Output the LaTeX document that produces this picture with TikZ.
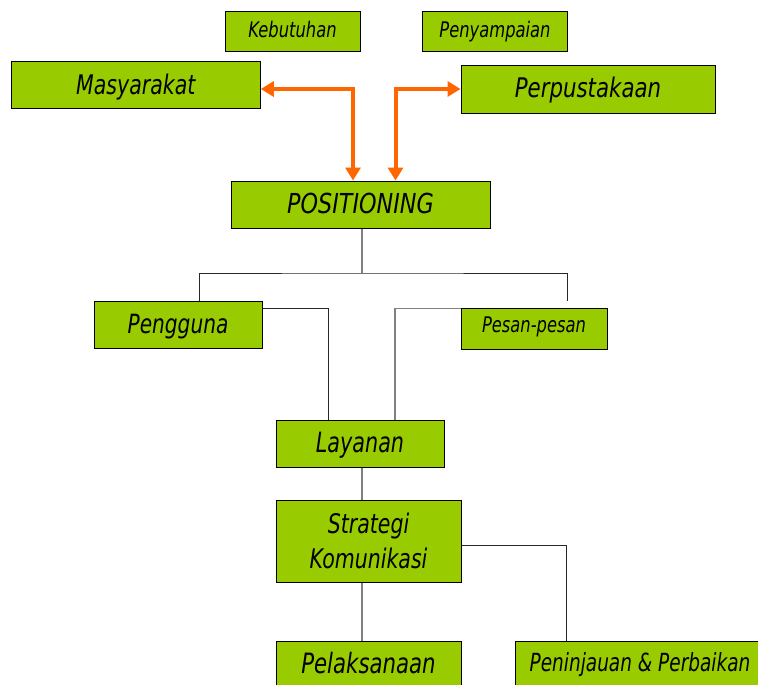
\documentclass[tikz,border=0pt]{standalone}
\usepackage{fontspec}
\newfontfamily\kotakfont[FakeStretch=0.76]{DejaVu Sans}
\usetikzlibrary{arrows.meta, positioning}

\definecolor{hijau}{RGB}{153,204,0}
\definecolor{oranye}{RGB}{255,102,0}
\definecolor{garis}{RGB}{40,40,40}
\definecolor{garisabu}{RGB}{128,128,128}

\newcommand{\ukuran}[1]{\kotakfont\itshape\fontsize{#1}{35}\selectfont}

\begin{document}
\begin{tikzpicture}[x=1pt, y=-1pt,
    kotak/.style={draw=black, line width=1pt, fill=hijau, inner sep=0pt,
        align=center, text height=19pt, text depth=1.2pt, font=\ukuran{27}},
    kotakkecil/.style={kotak, font=\ukuran{21.5}, text height=13pt, text depth=1.4pt},
    panah/.style={draw=oranye, line width=4pt, line join=miter,
        {Triangle[length=13pt, width=15pt]}-{Triangle[length=13pt, width=15pt]}},
    hubung/.style={draw=garis, line width=1pt},
    hubungabu/.style={draw=garisabu, line width=1.2pt}]
    \useasboundingbox (0,0) rectangle (758,685);

    % Kebutuhan dan penyampaian
    \node[kotakkecil, minimum width=135pt, minimum height=40pt] (butuh) at (292.5,31.7) {Kebutuhan};
    \node[kotakkecil, minimum width=145pt, minimum height=40pt] (sampai) at (495,31.7) {Penyampaian};

    % Masyarakat dan perpustakaan
    \node[kotak, minimum width=249pt, minimum height=47pt, text height=20pt] (masyarakat) at (135.8,85.4) {Masyarakat};
    \node[kotak, minimum width=254pt, minimum height=47pt, text height=17.4pt, font=\ukuran{27}\addfontfeatures{FakeStretch=0.79}] (pustaka) at (588,89.5) {Perpustakaan};

    % Positioning
    \node[kotak, minimum width=259pt, minimum height=47pt, text height=18.8pt, font=\ukuran{27.5}\addfontfeatures{FakeStretch=0.81}] (posisi) at (360.5,204.5) {POSITIONING};

    % Panah oranye
    \coordinate (belokkiri) at (353,89);
    \coordinate (belokkanan) at (395.5,89);
    \draw[panah] (belokkiri -| masyarakat.east) -- (belokkiri) -- (belokkiri |- posisi.north);
    \draw[panah] (belokkanan -| pustaka.west) -- (belokkanan) -- (belokkanan |- posisi.north);

    % Pengguna, pesan-pesan, layanan
    \node[kotak, minimum width=168pt, minimum height=47pt, font=\ukuran{26.5}] (pengguna) at (178,324.5) {Pengguna};
    \node[kotak, minimum width=146pt, minimum height=41pt, font=\ukuran{21.5}, text height=13pt, text depth=5.4pt] (pesan) at (534,328.5) {Pesan-pesan};
    \node[kotak, minimum width=168pt, minimum height=47pt, font=\ukuran{28}\addfontfeatures{FakeStretch=0.74}] (layanan) at (360,444) {Layanan};

    % Cabang dari positioning
    \coordinate (cabang) at (362,273);
    \coordinate (cabangkiri) at (199,273);
    \coordinate (ujungkanan) at (567,301);
    \draw[hubungabu] (cabang |- posisi.south) -- (cabang);
    \draw[hubung] (cabangkiri |- pengguna.north) -- (cabangkiri) -- (cabang) -| (ujungkanan);
    \draw[hubung] ([yshift=-8pt]pengguna.north east) -| ([xshift=-31.5pt]layanan.north);
    \draw[hubungabu] ([yshift=-1pt]pesan.north west) -| ([xshift=35pt]layanan.north);

    % Strategi komunikasi
    \node[kotak, minimum width=185pt, minimum height=82pt, text height=, text depth=, font=\ukuran{27}] (strategi) at (368.5,541) {Strategi\\Komunikasi};
    \draw[hubungabu] (cabang |- layanan.south) -- (cabang |- strategi.north);

    % Pelaksanaan dan peninjauan
    \node[kotak, minimum width=185pt, minimum height=47pt, text height=19.6pt, font=\ukuran{28}] (laksana) at (368.5,664.5) {Pelaksanaan};
    \node[kotak, minimum width=250pt, minimum height=47pt, text height=16pt, text depth=1.8pt, font=\ukuran{25}\addfontfeatures{FakeStretch=0.74}] (tinjau) at (640,664.5) {Peninjauan \& Perbaikan};
    \draw[hubungabu] (cabang |- strategi.south) -- (cabang |- laksana.north);
    \draw[hubung] ([yshift=-4pt]strategi.east) -| ([xshift=52pt]tinjau.north west);

\end{tikzpicture}
\end{document}
